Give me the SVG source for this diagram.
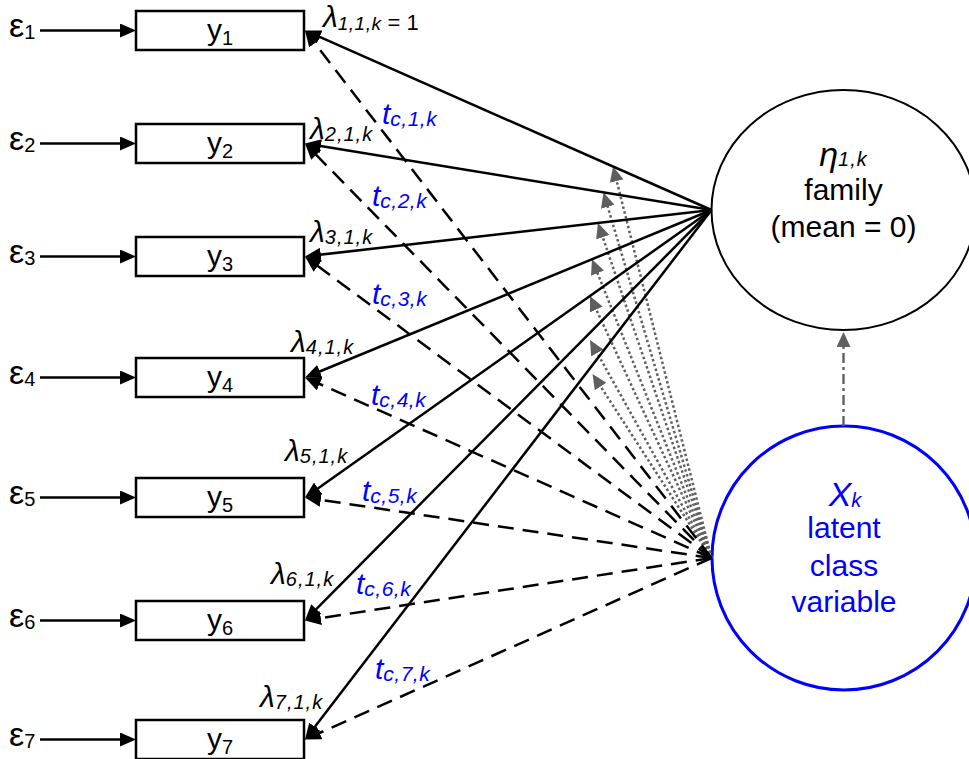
<svg xmlns="http://www.w3.org/2000/svg" width="969" height="759" viewBox="0 0 969 759">
  <style>
    text { font-family: "Liberation Sans", Arial, sans-serif; }
    .box { fill: #fff; stroke: #000; stroke-width: 2.5; }
    .lbl { font-size: 30px; fill: #000; }
    .eps { font-size: 34px; fill: #000; }
    .sub { font-size: 20px; }
    .err { stroke: #000; stroke-width: 2.6; fill: none; }
    .load { stroke: #000; stroke-width: 2.5; fill: none; }
    .thr { stroke: #000; stroke-width: 2.5; fill: none; stroke-dasharray: 16 9; }
    .dir { stroke: #606060; stroke-width: 2.5; fill: none; stroke-dasharray: 2.5 2.5; }
    .dd { stroke: #606060; stroke-width: 2.4; fill: none; stroke-dasharray: 10 4 3 4; }
    .lam { font-size: 30px; font-style: italic; fill: #000; }
    .lsub { font-size: 20px; letter-spacing: 1px; }
    .tl { font-size: 30px; font-style: italic; fill: #0000ff; }
    .tsub { font-size: 21px; letter-spacing: 0.5px; }
    .blue { fill: #0000ff; }
  </style>
  <defs>
    <marker id="ah" markerUnits="userSpaceOnUse" markerWidth="16" markerHeight="14" refX="8" refY="7" orient="auto">
      <path d="M0,0 L16,7 L0,14 z" fill="#000"/>
    </marker>
    <marker id="ahg" markerUnits="userSpaceOnUse" markerWidth="15" markerHeight="14" refX="9" refY="7" orient="auto">
      <path d="M0,0 L15,7 L0,14 z" fill="#5f5f5f"/>
    </marker>
  </defs>

  <!-- latent factor: family -->
  <g id="eta">
    <ellipse cx="843.5" cy="210" rx="132" ry="120" fill="#fff" stroke="#000" stroke-width="2"/>
    <text x="843.5" y="166" text-anchor="middle" class="lam" style="font-size:34px">η<tspan style="font-size:20px;letter-spacing:1px">1,k</tspan></text>
    <text x="843.5" y="200" text-anchor="middle" class="lbl">family</text>
    <text x="843.5" y="237" text-anchor="middle" class="lbl">(mean = 0)</text>
  </g>

  <!-- latent class variable -->
  <g id="xk">
    <circle cx="844" cy="558" r="132" fill="#fff" stroke="#0000ff" stroke-width="3"/>
    <text x="845" y="506" text-anchor="middle" class="blue" style="font-size:34px;font-style:italic">X<tspan style="font-size:20px" dy="1">k</tspan></text>
    <text x="844" y="538" text-anchor="middle" class="lbl blue">latent</text>
    <text x="844" y="575.5" text-anchor="middle" class="lbl blue">class</text>
    <text x="844" y="612" text-anchor="middle" class="lbl blue">variable</text>
  </g>

  <!-- observed indicators -->
  <g id="y1"><rect class="box" x="136" y="11" width="168" height="39"/><text class="lbl" x="220" y="39.5" text-anchor="middle">y<tspan class="sub" dy="5">1</tspan></text></g>
  <g id="y2"><rect class="box" x="136" y="124" width="168" height="39"/><text class="lbl" x="220" y="152.5" text-anchor="middle">y<tspan class="sub" dy="5">2</tspan></text></g>
  <g id="y3"><rect class="box" x="136" y="237" width="168" height="39"/><text class="lbl" x="220" y="265.5" text-anchor="middle">y<tspan class="sub" dy="5">3</tspan></text></g>
  <g id="y4"><rect class="box" x="136" y="358" width="168" height="39"/><text class="lbl" x="220" y="386.5" text-anchor="middle">y<tspan class="sub" dy="5">4</tspan></text></g>
  <g id="y5"><rect class="box" x="136" y="478" width="168" height="39"/><text class="lbl" x="220" y="506.5" text-anchor="middle">y<tspan class="sub" dy="5">5</tspan></text></g>
  <g id="y6"><rect class="box" x="136" y="601" width="168" height="39"/><text class="lbl" x="220" y="629.5" text-anchor="middle">y<tspan class="sub" dy="5">6</tspan></text></g>
  <g id="y7"><rect class="box" x="136" y="720" width="168" height="39"/><text class="lbl" x="220" y="748.5" text-anchor="middle">y<tspan class="sub" dy="5">7</tspan></text></g>

  <!-- residual terms -->
  <g id="e1"><text class="eps" x="9" y="37">ε<tspan class="sub" dy="2">1</tspan></text></g>
  <g id="e2"><text class="eps" x="9" y="150">ε<tspan class="sub" dy="2">2</tspan></text></g>
  <g id="e3"><text class="eps" x="9" y="263">ε<tspan class="sub" dy="2">3</tspan></text></g>
  <g id="e4"><text class="eps" x="9" y="384">ε<tspan class="sub" dy="2">4</tspan></text></g>
  <g id="e5"><text class="eps" x="9" y="504">ε<tspan class="sub" dy="2">5</tspan></text></g>
  <g id="e6"><text class="eps" x="9" y="627">ε<tspan class="sub" dy="2">6</tspan></text></g>
  <g id="e7"><text class="eps" x="9" y="746">ε<tspan class="sub" dy="2">7</tspan></text></g>

  <g id="connectors">
    <!-- residual arrows -->
    <line class="err" x1="40" y1="30.5" x2="128" y2="30.5" marker-end="url(#ah)"/>
    <line class="err" x1="40" y1="143.5" x2="128" y2="143.5" marker-end="url(#ah)"/>
    <line class="err" x1="40" y1="256.5" x2="128" y2="256.5" marker-end="url(#ah)"/>
    <line class="err" x1="40" y1="377.5" x2="128" y2="377.5" marker-end="url(#ah)"/>
    <line class="err" x1="40" y1="497.5" x2="128" y2="497.5" marker-end="url(#ah)"/>
    <line class="err" x1="40" y1="620.5" x2="128" y2="620.5" marker-end="url(#ah)"/>
    <line class="err" x1="40" y1="739.5" x2="128" y2="739.5" marker-end="url(#ah)"/>

    <!-- class effects on loadings (dotted) -->
    <line class="dir" x1="711.5" y1="558" x2="614.5" y2="172.3" marker-end="url(#ahg)"/>
    <line class="dir" x1="711.5" y1="558" x2="605.2" y2="198.1" marker-end="url(#ahg)"/>
    <line class="dir" x1="711.5" y1="558" x2="599.9" y2="228.7" marker-end="url(#ahg)"/>
    <line class="dir" x1="711.5" y1="558" x2="594.2" y2="264.8" marker-end="url(#ahg)"/>
    <line class="dir" x1="711.5" y1="558" x2="592.5" y2="301.4" marker-end="url(#ahg)"/>
    <line class="dir" x1="711.5" y1="558" x2="592.9" y2="345.2" marker-end="url(#ahg)"/>
    <line class="dir" x1="711.5" y1="558" x2="595.8" y2="379.0" marker-end="url(#ahg)"/>

    <!-- factor loadings -->
    <line class="load" x1="711.5" y1="210" x2="312.3" y2="33.7" marker-end="url(#ah)"/>
    <line class="load" x1="711.5" y1="210" x2="312.9" y2="144.8" marker-end="url(#ah)"/>
    <line class="load" x1="711.5" y1="210" x2="312.9" y2="255.6" marker-end="url(#ah)"/>
    <line class="load" x1="711.5" y1="210" x2="312.4" y2="374.5" marker-end="url(#ah)"/>
    <line class="load" x1="711.5" y1="210" x2="311.5" y2="492.9" marker-end="url(#ah)"/>
    <line class="load" x1="711.5" y1="210" x2="310.6" y2="614.8" marker-end="url(#ah)"/>
    <line class="load" x1="711.5" y1="210" x2="309.9" y2="733.2" marker-end="url(#ah)"/>

    <!-- class-specific thresholds (dashed) -->
    <line class="thr" x1="711.5" y1="558" x2="309.9" y2="36.8" marker-end="url(#ah)"/>
    <line class="thr" x1="711.5" y1="558" x2="310.6" y2="149.2" marker-end="url(#ah)"/>
    <line class="thr" x1="711.5" y1="558" x2="311.4" y2="261.3" marker-end="url(#ah)"/>
    <line class="thr" x1="711.5" y1="558" x2="312.3" y2="380.7" marker-end="url(#ah)"/>
    <line class="thr" x1="711.5" y1="558" x2="312.9" y2="498.7" marker-end="url(#ah)"/>
    <line class="thr" x1="711.5" y1="558" x2="312.9" y2="619.3" marker-end="url(#ah)"/>
    <line class="thr" x1="711.5" y1="558" x2="312.3" y2="736.2" marker-end="url(#ah)"/>

    <!-- class effect on factor mean -->
    <line class="dd" x1="843.5" y1="426" x2="843.5" y2="338" marker-end="url(#ahg)"/>
  </g>

  <!-- loading labels -->
  <text class="lam" x="323" y="27">λ<tspan style="font-size:19px;letter-spacing:0.5px" dy="3">1,1,k</tspan><tspan style="font-size:22px;font-style:normal"> = 1</tspan></text>
  <text class="lam" x="310" y="139">λ<tspan class="lsub" dy="2">2,1,k</tspan></text>
  <text class="lam" x="310" y="242">λ<tspan class="lsub" dy="2">3,1,k</tspan></text>
  <text class="lam" x="291" y="352">λ<tspan class="lsub" dy="2">4,1,k</tspan></text>
  <text class="lam" x="285" y="460.5">λ<tspan class="lsub" dy="2">5,1,k</tspan></text>
  <text class="lam" x="271" y="583.5">λ<tspan class="lsub" dy="2">6,1,k</tspan></text>
  <text class="lam" x="260" y="707">λ<tspan class="lsub" dy="2">7,1,k</tspan></text>

  <!-- threshold labels -->
  <text class="tl" x="382" y="124">t<tspan class="tsub" dy="2">c,1,k</tspan></text>
  <text class="tl" x="372" y="206">t<tspan class="tsub" dy="2">c,2,k</tspan></text>
  <text class="tl" x="372" y="304">t<tspan class="tsub" dy="2">c,3,k</tspan></text>
  <text class="tl" x="371" y="405">t<tspan class="tsub" dy="2">c,4,k</tspan></text>
  <text class="tl" x="362" y="501">t<tspan class="tsub" dy="2">c,5,k</tspan></text>
  <text class="tl" x="356" y="594">t<tspan class="tsub" dy="2">c,6,k</tspan></text>
  <text class="tl" x="375" y="679">t<tspan class="tsub" dy="2">c,7,k</tspan></text>
</svg>
